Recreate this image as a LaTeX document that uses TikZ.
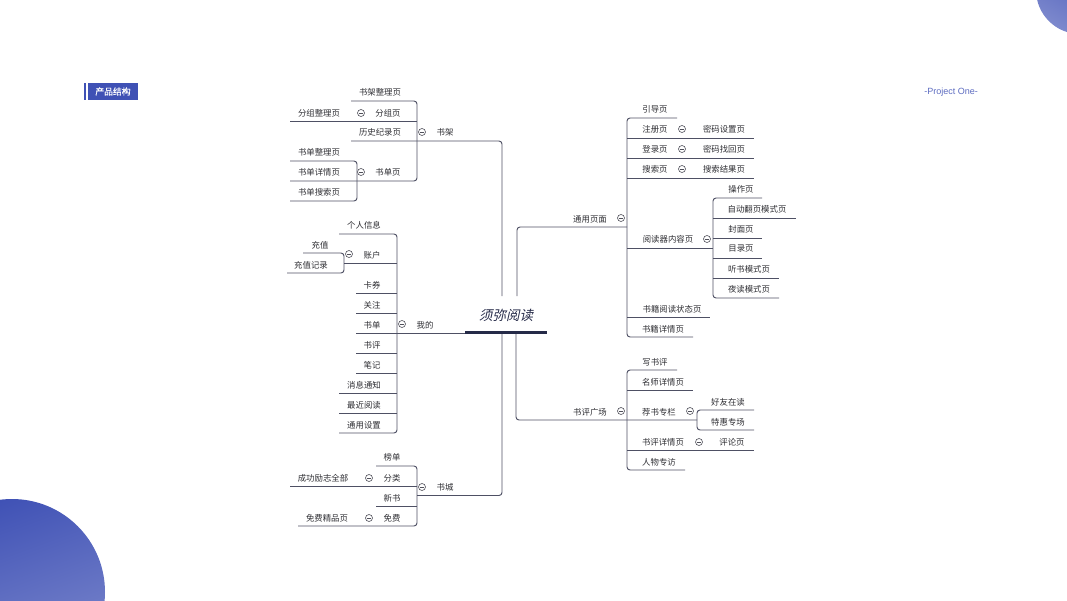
\documentclass[tikz,border=0pt]{standalone}
\usepackage{fontspec}
\setmainfont{Liberation Sans}
\newfontfamily\cjk{Noto Sans CJK SC}
\newfontfamily\cjkslant[FakeSlant=0.22]{Noto Sans CJK SC}
\newfontfamily\cjkbold[FakeBold=0.5]{Noto Sans CJK SC}
\definecolor{txt}{RGB}{45,45,50}
\definecolor{lnc}{RGB}{78,80,100}
\definecolor{navy}{RGB}{37,42,72}
\definecolor{indigo}{RGB}{63,81,181}
\definecolor{indigolt}{RGB}{125,137,205}
\definecolor{proj}{RGB}{92,107,192}
\definecolor{circ}{RGB}{80,80,90}
\tikzset{
  t/.style={font=\cjk\fontsize{8.4}{10}\selectfont, text=txt, inner sep=0pt},
  ln/.style={draw=lnc, line width=0.95pt, rounded corners=3pt},
  fold/.style={circle, draw=circ, line width=0.6pt, minimum size=7pt, inner sep=0pt, fill=white,
    path picture={\draw[circ, line width=0.6pt] ([xshift=-1.8pt]path picture bounding box.center) -- ([xshift=1.8pt]path picture bounding box.center);}},
}
\begin{document}
\begin{tikzpicture}[x=1pt,y=-1pt]
\useasboundingbox (0,0) rectangle (1067,600);
\clip (0,0) rectangle (1067,600);
% decorative circles
\shade[top color=indigo, bottom color=indigolt, shading angle=20] (12,592) circle (93);
\shade[left color=indigo, right color=indigolt, shading angle=-30] (1080,-10) circle (44);
% header
\fill[indigo] (83.5,83) rectangle (86,100);
\fill[indigo] (88,83) rectangle (138,100);
\node[font=\cjkbold\fontsize{8.8}{10}\selectfont, text=white, inner sep=0pt] (hdr) at (113,91.5) {产品结构};
\node[font=\fontsize{9}{11}\selectfont, text=proj, inner sep=0pt] (proj) at (951,92) {-Project One-};
% center
\node[font=\cjkslant\fontsize{13.5}{16}\selectfont, text=navy, inner sep=0pt] (root) at (506,315) {须弥阅读};
\draw[navy, line width=3pt] (465,332) -- (547,332);

% ===== 书架 =====
\draw[ln] (351,101) -- (417,101) -- (417,181) -- (290,181);
\draw[ln] (290,121) -- (417,121);
\draw[ln] (351,141) -- (502,141) -- (502,296);
\draw[ln] (290,161) -- (357,161) -- (357,201) -- (290,201);
\node[t] (sjzl) at (380,92) {书架整理页};
\node[t] (fzzl) at (319,113) {分组整理页};
\node[fold] (cfz) at (361,113) {};
\node[t] (fzy) at (388,113) {分组页};
\node[t] (lsjl) at (380,132) {历史纪录页};
\node[fold] (csj) at (422,132) {};
\node[t] (sj) at (445,132) {书架};
\node[t] (sdzl) at (319,152) {书单整理页};
\node[t] (sdxq) at (319,172) {书单详情页};
\node[t] (sdss) at (319,192) {书单搜索页};
\node[fold] (csdy) at (361,172) {};
\node[t] (sdy) at (388,172) {书单页};

% ===== 我的 =====
\draw[ln] (339,234) -- (397,234) -- (397,433) -- (339,433);
\draw[ln] (344,263) -- (397,263);
\draw[ln] (356,293) -- (397,293);
\draw[ln] (356,313) -- (397,313);
\draw[ln] (356,333) -- (465,333);
\draw[ln] (356,353) -- (397,353);
\draw[ln] (356,373) -- (397,373);
\draw[ln] (339,393) -- (397,393);
\draw[ln] (339,413) -- (397,413);
\draw[ln] (303,253) -- (344,253) -- (344,273) -- (287,273);
\node[t] (grxx) at (364,225) {个人信息};
\node[t] (cz) at (320,245) {充值};
\node[t] (czjl) at (311,265) {充值记录};
\node[fold] (czh) at (349,254) {};
\node[t] (zh) at (372,255) {账户};
\node[t] (kq) at (372,285) {卡券};
\node[t] (gz) at (372,305) {关注};
\node[t] (sd) at (372,325) {书单};
\node[fold] (cwd) at (402,324) {};
\node[t] (wd) at (425,325) {我的};
\node[t] (sp) at (372,345) {书评};
\node[t] (bj) at (372,365) {笔记};
\node[t] (xxtz) at (364,385) {消息通知};
\node[t] (zjyd) at (364,405) {最近阅读};
\node[t] (tysz) at (364,425) {通用设置};

% ===== 书城 =====
\draw[ln] (376,466) -- (417,466) -- (417,526) -- (298,526);
\draw[ln] (290,486) -- (417,486);
\draw[ln] (376,506) -- (417,506);
\draw[ln] (417,495.5) -- (502,495.5) -- (502,334);
\node[t] (bd) at (392,457) {榜单};
\node[t] (cglz) at (323,478) {成功励志全部};
\node[fold] (cfl) at (369,478) {};
\node[t] (fl) at (392,478) {分类};
\node[fold] (csc) at (422,487) {};
\node[t] (sc) at (445,487) {书城};
\node[t] (xs) at (392,498) {新书};
\node[t] (mfjp) at (327,518) {免费精品页};
\node[fold] (cmf) at (369,518) {};
\node[t] (mf) at (392,518) {免费};

% ===== 通用页面 =====
\draw[ln] (517,296) -- (517,227) -- (627,227);
\draw[ln] (677,118) -- (627,118) -- (627,337) -- (693,337);
\draw[ln] (627,138) -- (754,138);
\draw[ln] (627,158) -- (754,158);
\draw[ln] (627,178) -- (754,178);
\draw[ln] (627,248) -- (713,248);
\draw[ln] (627,317) -- (710,317);
\draw[ln] (762,198) -- (713,198) -- (713,298) -- (779,298);
\draw[ln] (713,218) -- (796,218);
\draw[ln] (713,238) -- (762,238);
\draw[ln] (713,258) -- (762,258);
\draw[ln] (713,278) -- (779,278);
\node[t] (tyym) at (590,219) {通用页面};
\node[fold] (ctyym) at (621,218) {};
\node[t] (ydy) at (655,109) {引导页};
\node[t] (zcy) at (655,129) {注册页};
\node[fold] (czcy) at (682,129) {};
\node[t] (mmsz) at (724,129) {密码设置页};
\node[t] (dly) at (655,149) {登录页};
\node[fold] (cdly) at (682,149) {};
\node[t] (mmzh) at (724,149) {密码找回页};
\node[t] (ssy) at (655,169) {搜索页};
\node[fold] (cssy) at (682,169) {};
\node[t] (ssjg) at (724,169) {搜索结果页};
\node[t] (czy) at (741,189) {操作页};
\node[t] (zdfy) at (757,209) {自动翻页模式页};
\node[t] (ydq) at (668,239) {阅读器内容页};
\node[fold] (cydq) at (707,239) {};
\node[t] (fmy) at (741,229) {封面页};
\node[t] (mly) at (741,249) {目录页};
\node[t] (tsms) at (749,269) {听书模式页};
\node[t] (ydms) at (749,289) {夜读模式页};
\node[t] (sjyd) at (672,309) {书籍阅读状态页};
\node[t] (sjxq) at (663,329) {书籍详情页};

% ===== 书评广场 =====
\draw[ln] (516,334) -- (516,420) -- (697,420);
\draw[ln] (677,370) -- (627,370) -- (627,470) -- (685,470);
\draw[ln] (627,390) -- (693,390);
\draw[ln] (627,450) -- (754,450);
\draw[ln] (754,410) -- (697,410) -- (697,430) -- (754,430);
\node[t] (spgc) at (590,412) {书评广场};
\node[fold] (cspgc) at (621,411) {};
\node[t] (xsp) at (655,362) {写书评};
\node[t] (msxq) at (663,382) {名师详情页};
\node[t] (jszl) at (659,412) {荐书专栏};
\node[fold] (cjszl) at (690,411) {};
\node[t] (hyzd) at (728,402) {好友在读};
\node[t] (thzc) at (728,422) {特惠专场};
\node[t] (spxq) at (663,442) {书评详情页};
\node[fold] (cspxq) at (699,442) {};
\node[t] (ply) at (732,442) {评论页};
\node[t] (rwzf) at (659,462) {人物专访};
\end{tikzpicture}
\end{document}
